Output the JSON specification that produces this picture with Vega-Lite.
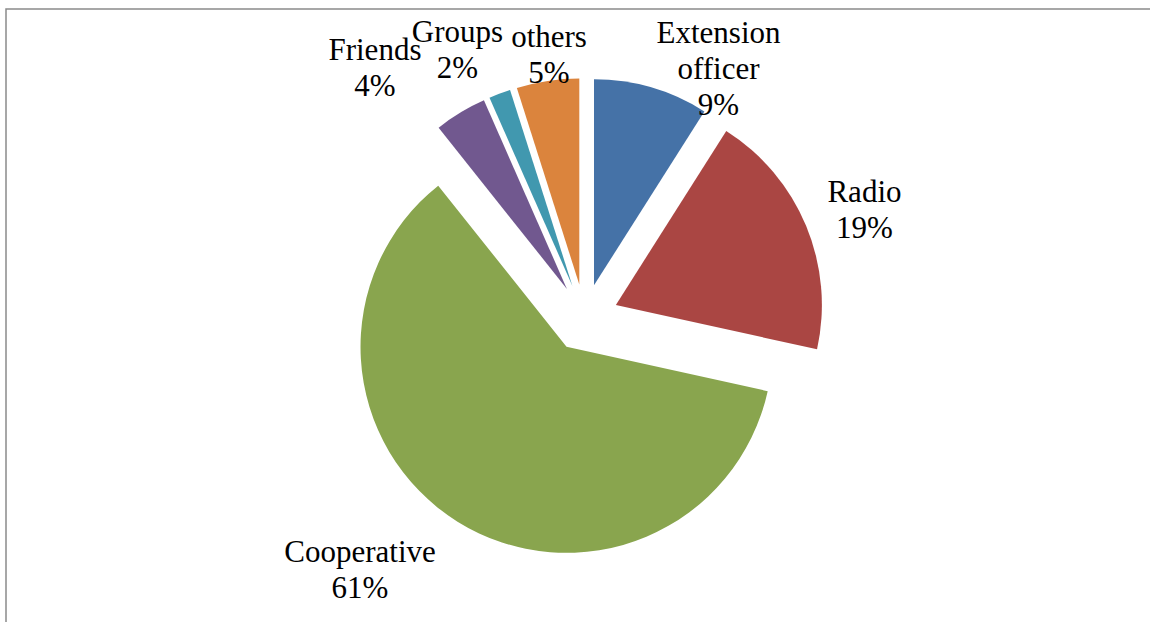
{
  "$schema": "https://vega.github.io/schema/vega-lite/v6.json",
  "width": 1150,
  "height": 622,
  "autosize": {"type": "fit", "contains": "padding"},
  "padding": {"left": 6, "top": 9, "right": -2, "bottom": -2},
  "background": "white",
  "config": {"view": {"stroke": "#8a8a8a", "strokeWidth": 1.5}},
  "data": {
    "values": [
      {"source": "Extension officer", "value": 9.0},
      {"source": "Radio", "value": 19.45},
      {"source": "Cooperative", "value": 60.85},
      {"source": "Friends", "value": 4.1},
      {"source": "Groups", "value": 1.7},
      {"source": "others", "value": 4.9}
    ]
  },
  "transform": [
    {"window": [{"op": "sum", "field": "value", "as": "cum"}], "frame": [null, 0]},
    {"calculate": "datum.cum - datum.value", "as": "t0"},
    {"calculate": "(datum.cum - datum.value / 2) / 100 * 2 * PI", "as": "mid"},
    {"calculate": "0.165 * sin(datum.mid)", "as": "cx"},
    {"calculate": "0.165 * cos(datum.mid)", "as": "cy"},
    {"calculate": "datum.mid + PI / 180 * (datum.source == 'Extension officer' ? 9.8 : datum.source == 'Radio' ? 0.1 : datum.source == 'Cooperative' ? 10.65 : datum.source == 'Friends' ? -7.96 : datum.source == 'Groups' ? -4.0 : 1.37)", "as": "la"},
    {"calculate": "datum.source == 'Extension officer' ? 1.484 : datum.source == 'Radio' ? 1.471 : datum.source == 'Cooperative' ? 1.61 : datum.source == 'Friends' ? 1.613 : datum.source == 'Groups' ? 1.476 : 1.328", "as": "ld"},
    {"calculate": "datum.ld * sin(datum.la)", "as": "lx"},
    {"calculate": "datum.ld * cos(datum.la)", "as": "ly"},
    {"calculate": "replace(datum.source, ' ', '\\n') + '\\n' + format(datum.value / 100, '.0%')", "as": "label"}
  ],
  "layer": [
    {
      "mark": {"type": "arc", "radius": 206},
      "encoding": {
        "x": {"field": "cx", "type": "quantitative", "scale": {"domain": [-2.8083, 2.7549], "nice": false, "zero": false}, "axis": null},
        "y": {"field": "cy", "type": "quantitative", "scale": {"domain": [-1.4854, 1.5], "nice": false, "zero": false}, "axis": null},
        "theta": {"field": "t0", "type": "quantitative", "stack": null, "scale": {"domain": [0, 100], "range": [0, 6.283185307179586], "zero": false, "nice": false}},
        "theta2": {"field": "cum"},
        "color": {
          "field": "source",
          "type": "nominal",
          "scale": {
            "domain": ["Extension officer", "Radio", "Cooperative", "Friends", "Groups", "others"],
            "range": ["#4572A7", "#AA4643", "#89A54E", "#71588F", "#4198AF", "#DB843D"]
          },
          "legend": null
        }
      }
    },
    {
      "mark": {"type": "text", "font": "Liberation Serif", "fontSize": 31, "lineHeight": 36, "lineBreak": "\n", "align": "center", "baseline": "alphabetic", "color": "black"},
      "encoding": {
        "x": {"field": "lx", "type": "quantitative"},
        "y": {"field": "ly", "type": "quantitative"},
        "text": {"field": "label"}
      }
    }
  ]
}
